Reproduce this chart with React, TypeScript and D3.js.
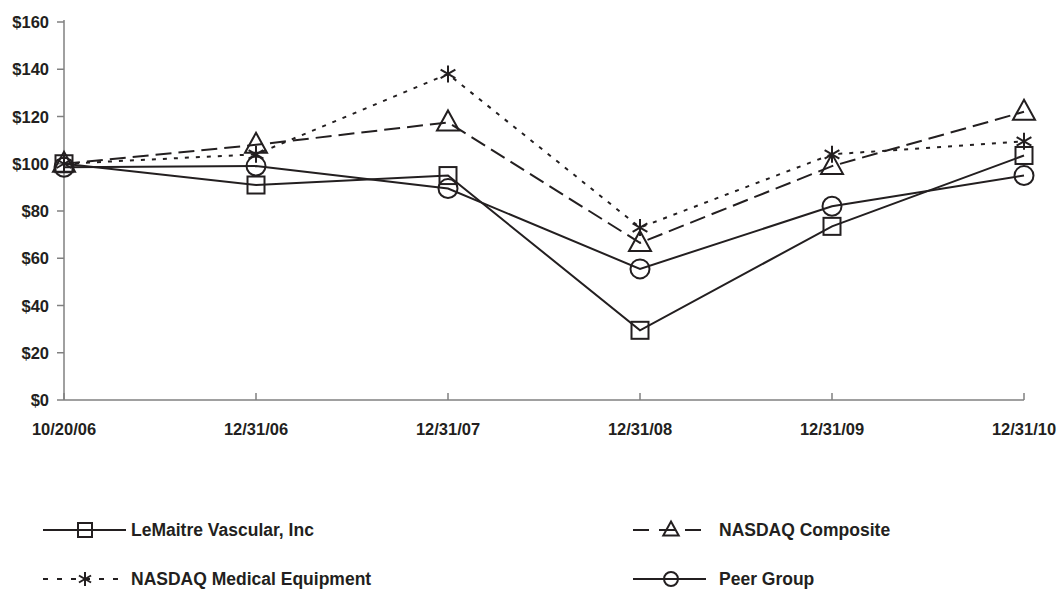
import React from "react";
import * as d3 from "d3";

const categories = ["10/20/06", "12/31/06", "12/31/07", "12/31/08", "12/31/09", "12/31/10"];
const yTicks = [0, 20, 40, 60, 80, 100, 120, 140, 160];
const lemaitre = [100, 91, 95, 29.5, 73.5, 103.5];
const nasdaqComposite = [100, 108, 117.5, 66.5, 99, 122];
const nasdaqMedical = [100, 104, 138, 73, 104, 109.5];
const peerGroup = [98.5, 99, 89.5, 55.5, 82, 95];

type Marker = "square" | "triangle" | "asterisk" | "circle";
const series: { name: string; values: number[]; dash: string; marker: Marker }[] = [
  { name: "LeMaitre Vascular, Inc", values: lemaitre, dash: "", marker: "square" },
  { name: "NASDAQ Composite", values: nasdaqComposite, dash: "16,7", marker: "triangle" },
  { name: "NASDAQ Medical Equipment", values: nasdaqMedical, dash: "4,7", marker: "asterisk" },
  { name: "Peer Group", values: peerGroup, dash: "", marker: "circle" },
];

const W = 1060, H = 591;
const x = d3.scalePoint<string>().domain(categories).range([64, 1024]);
const y = d3.scaleLinear().domain([0, 160]).range([400, 22]);
const INK = "#231f20";
const FONT = "'Liberation Sans', Arial, Helvetica, sans-serif";

function MarkerShape({ kind, cx, cy, s }: { kind: Marker; cx: number; cy: number; s: number }) {
  const common = { fill: "none", stroke: INK, strokeWidth: 2 };
  if (kind === "square") return <rect x={cx - s / 2} y={cy - s / 2} width={s} height={s} {...common} />;
  if (kind === "circle") return <ellipse cx={cx} cy={cy} rx={s / 2} ry={s / 2} {...common} />;
  if (kind === "triangle") {
    const h = s * 1.0;
    const p = `${cx},${cy - h * 0.6} ${cx + s * 0.55},${cy + h * 0.4} ${cx - s * 0.55},${cy + h * 0.4}`;
    return <polygon points={p} {...common} strokeLinejoin="miter" />;
  }
  const r = s / 2;
  const lines: React.ReactElement[] = [];
  [0, 60, 120].forEach((a, i) => {
    const rad = (a * Math.PI) / 180 + Math.PI / 2;
    lines.push(
      <line key={i} x1={cx - r * Math.cos(rad)} y1={cy - r * Math.sin(rad)} x2={cx + r * Math.cos(rad)} y2={cy + r * Math.sin(rad)} {...common} />
    );
  });
  return <g>{lines}</g>;
}

export default function App() {
  const line = d3
    .line<number>()
    .x((_, i) => x(categories[i]) as number)
    .y((d) => y(d));
  const legendPos = [
    { x1: 43, x2: 126, mx: 85, tx: 131, ty: 530 },
    { x1: 633, x2: 706, mx: 671, tx: 719, ty: 530 },
    { x1: 43, x2: 126, mx: 85, tx: 131, ty: 579 },
    { x1: 633, x2: 706, mx: 671, tx: 719, ty: 579 },
  ];
  return (
    <svg width={W} height={H} style={{ position: "absolute", left: 0, top: 0, background: "#fff" }} fontFamily={FONT}>
      {/* axes */}
      <line x1={64} y1={y(160) - 2} x2={64} y2={400} stroke="#808080" strokeWidth={1.5} />
      <line x1={64} y1={400} x2={1024} y2={400} stroke="#808080" strokeWidth={1.5} />
      {yTicks.map((t) => (
        <g key={t}>
          <line x1={57} x2={64} y1={y(t)} y2={y(t)} stroke="#808080" strokeWidth={1.5} />
          <text x={49} y={y(t)} textAnchor="end" dominantBaseline="central" fontSize={16.5} fontWeight="bold" fill={INK}>
            {"$" + t}
          </text>
        </g>
      ))}
      {categories.map((c) => (
        <g key={c}>
          <line x1={x(c)} x2={x(c)} y1={393} y2={400} stroke="#808080" strokeWidth={1.5} />
          <text x={x(c)} y={435} textAnchor="middle" fontSize={16.5} fontWeight="bold" fill={INK}>
            {c}
          </text>
        </g>
      ))}
      {/* series */}
      {series.map((s) => (
        <g key={s.name}>
          <path d={line(s.values) || ""} fill="none" stroke={INK} strokeWidth={2} strokeDasharray={s.dash || undefined} />
          {s.values.map((v, i) => (
            <MarkerShape key={i} kind={s.marker} cx={x(categories[i]) as number} cy={y(v)} s={s.marker === "circle" ? 19 : s.marker === "triangle" ? 20 : 17} />
          ))}
        </g>
      ))}
      {/* legend */}
      {series.map((s, i) => {
        const p = legendPos[i];
        const dash = s.marker === "triangle" ? "16,10" : s.marker === "asterisk" ? "5,9" : undefined;
        return (
          <g key={s.name}>
            <line x1={p.x1} x2={p.x2} y1={p.ty} y2={p.ty} stroke={INK} strokeWidth={2} strokeDasharray={dash} />
            <MarkerShape kind={s.marker} cx={p.mx} cy={p.ty} s={14} />
            <text x={p.tx} y={p.ty} dominantBaseline="central" fontSize={17.5} fontWeight="bold" fill={INK}>
              {s.name}
            </text>
          </g>
        );
      })}
    </svg>
  );
}
